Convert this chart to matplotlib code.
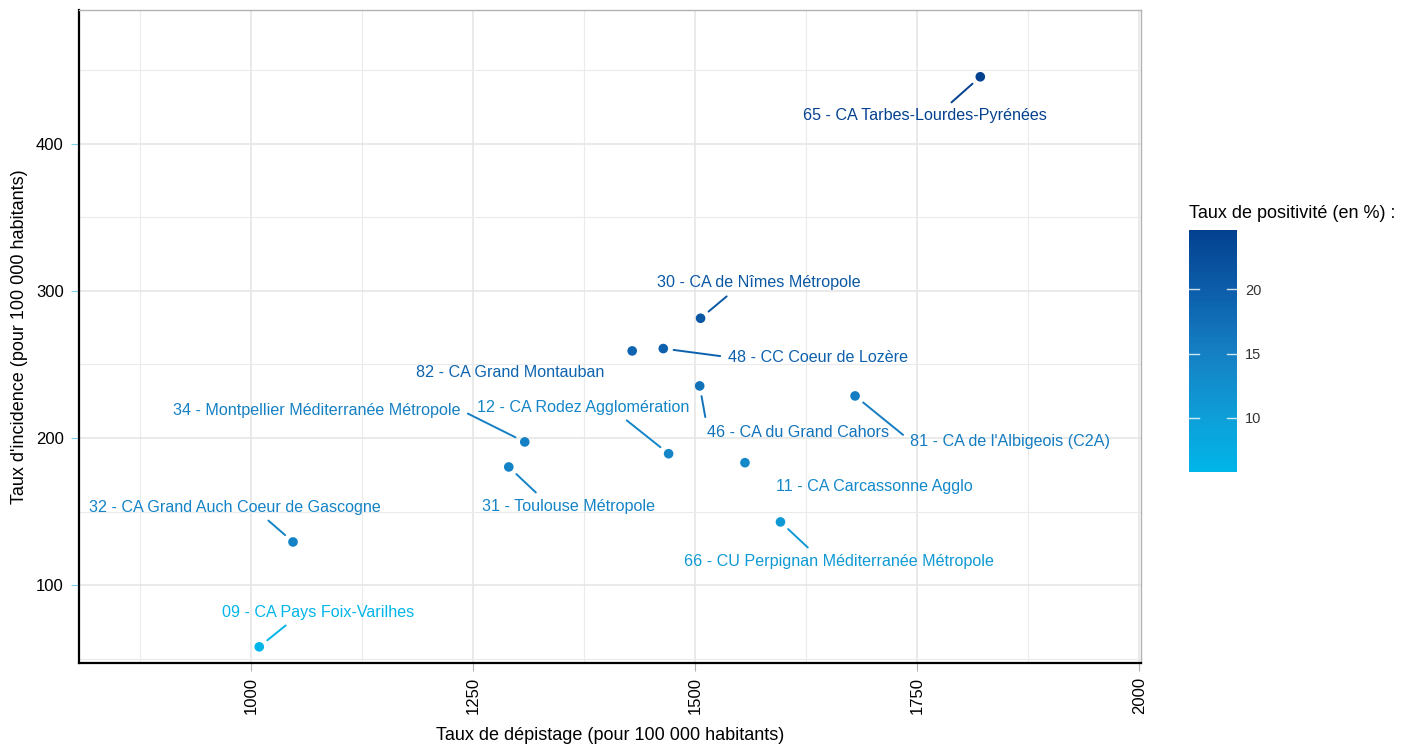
import matplotlib
matplotlib.use("Agg")
import matplotlib.pyplot as plt
import numpy as np
from matplotlib.colors import LinearSegmentedColormap, Normalize
from matplotlib.transforms import blended_transform_factory

plt.rcParams['font.family'] = ['Liberation Sans', 'DejaVu Sans']

# ── données ──
labels = [
    "65 - CA Tarbes-Lourdes-Pyrénées",
    "30 - CA de Nîmes Métropole",
    "82 - CA Grand Montauban",
    "48 - CC Coeur de Lozère",
    "46 - CA du Grand Cahors",
    "81 - CA de l'Albigeois (C2A)",
    "34 - Montpellier Méditerranée Métropole",
    "12 - CA Rodez Agglomération",
    "11 - CA Carcassonne Agglo",
    "31 - Toulouse Métropole",
    "66 - CU Perpignan Méditerranée Métropole",
    "32 - CA Grand Auch Coeur de Gascogne",
    "09 - CA Pays Foix-Varilhes",
]
taux_depistage = [1821, 1506, 1429, 1464, 1505, 1680, 1308, 1470, 1556, 1290, 1596, 1047, 1009]
taux_incidence = [445.6, 281.4, 259.2, 260.8, 235.4, 228.6, 197.3, 189.3, 183.2, 180.3, 142.9, 129.3, 58.0]
taux_positivite = [24.6, 21.0, 19.0, 19.5, 17.0, 15.5, 15.0, 14.0, 13.5, 14.5, 11.0, 14.5, 5.8]

# position des étiquettes (mise en page, coordonnées données)
label_x = [1759, 1572, 1292, 1638, 1616, 1854, 1074, 1374, 1702, 1357, 1662, 982, 1075]
label_y = [419, 305.4, 244.2, 255, 204, 197.3, 219, 221, 166.7, 153.7, 116.3, 153, 81.6]
# point d'attache du segment sur l'étiquette (None = pas de segment)
label_relpos = [(0.58, 1.0), (0.375, 0.0), None, (0.0, 0.5), (0.0, 0.8), (0.0, 0.62),
                (1.0, 0.5), (0.67, 0.0), None, (0.35, 1.0), (0.42, 1.0), (0.59, 0.0), (0.37, 0.0)]

cmap = LinearSegmentedColormap.from_list(
    "pos", [(0.0, "#00B5E9"), (0.22, "#0E9FD8"), (0.49, "#1580C4"),
            (0.755, "#0C5DAA"), (1.0, "#03418F")])
norm = Normalize(vmin=min(taux_positivite), vmax=max(taux_positivite))

W, H = 1413, 744
fig = plt.figure(figsize=(W / 100, H / 100), dpi=100)
ax = fig.add_axes([79 / W, 1 - 663 / H, (1141 - 79) / W, (663 - 10) / H])

ax.set_xlim(806, 2002)
ax.set_ylim(47, 491)
ax.set_xticks([1000, 1250, 1500, 1750, 2000])
ax.set_xticks([875, 1125, 1375, 1625, 1875], minor=True)
ax.set_yticks([100, 200, 300, 400])
ax.set_yticks([50, 150, 250, 350, 450], minor=True)
ax.grid(which='major', color='#e6e6e6', linewidth=1.2, zorder=0)
ax.grid(which='minor', color='#ebebeb', linewidth=0.8, zorder=0)
ax.set_axisbelow(True)

for side in ['top', 'right']:
    ax.spines[side].set_color('#b3b3b3')
    ax.spines[side].set_linewidth(1.0)
for side in ['left', 'bottom']:
    ax.spines[side].set_color('black')
    ax.spines[side].set_linewidth(1.6)

ax.tick_params(axis='x', which='major', length=6, color='#b3b3b3', labelsize=12,
               labelcolor='black', labelrotation=90, pad=4)
ax.tick_params(axis='y', which='major', length=6, color='#7fd0ea', labelsize=12,
               labelcolor='black', pad=5)
ax.tick_params(which='minor', length=0)

colors = [cmap(norm(v)) for v in taux_positivite]
ax.scatter(taux_depistage, taux_incidence, c=colors, s=48, zorder=3, linewidths=0)

for i, lab in enumerate(labels):
    if label_relpos[i] is not None:
        ax.annotate(lab, xy=(taux_depistage[i], taux_incidence[i]),
                    xytext=(label_x[i], label_y[i]),
                    ha='center', va='center', fontsize=11.6, color=colors[i],
                    arrowprops=dict(arrowstyle='-', color=colors[i], lw=1.4,
                                    relpos=label_relpos[i],
                                    shrinkA=3.5, shrinkB=7.5), zorder=4)
    else:
        ax.text(label_x[i], label_y[i], lab, ha='center', va='center',
                fontsize=11.6, color=colors[i], zorder=4)

ax.set_xlabel("Taux de dépistage (pour 100 000 habitants)", fontsize=13, labelpad=9)
ax.set_ylabel("Taux d'incidence (pour 100 000 habitants)", fontsize=13, labelpad=6)

# ── légende / barre de couleur ──
cax = fig.add_axes([1189 / W, 1 - 472 / H, 48 / W, 242 / H])
sm = plt.cm.ScalarMappable(norm=norm, cmap=cmap)
cb = fig.colorbar(sm, cax=cax)
cb.outline.set_visible(False)
cb.set_ticks([10, 15, 20])
cax.tick_params(length=0, labelsize=10.5, labelcolor='#333333', pad=6)
tr = blended_transform_factory(cax.transAxes, cax.transData)
for t in [10, 15, 20]:
    cax.plot([0, 0.2], [t, t], color='white', lw=1, alpha=0.8, transform=tr)
    cax.plot([0.8, 1], [t, t], color='white', lw=1, alpha=0.8, transform=tr)
fig.text(1189 / W, 1 - 213 / H, "Taux de positivité (en %) :", fontsize=13,
         ha='left', va='center')

fig.savefig("out.png", dpi=100)
